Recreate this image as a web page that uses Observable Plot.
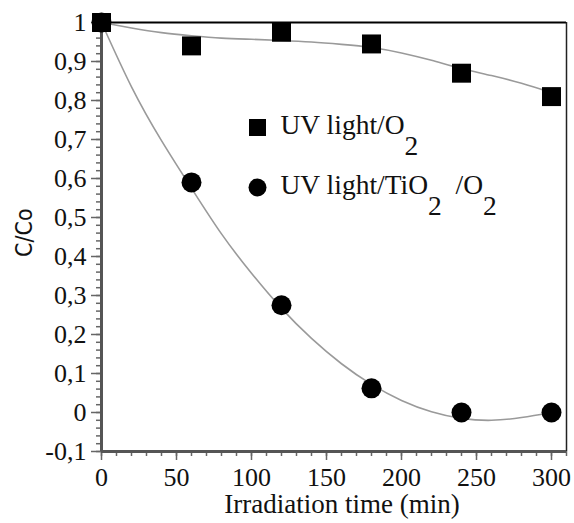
<!DOCTYPE html>
<html>
<head>
<meta charset="utf-8">
<script src="https://cdn.jsdelivr.net/npm/d3@7"></script>
<script src="https://cdn.jsdelivr.net/npm/@observablehq/plot@0.6"></script>
<style>
  body { margin: 0; background: #fff; }
  svg text { white-space: pre; }
  svg text.serif, svg text.serif tspan { font-family: "Liberation Serif", "Times New Roman", Times, "DejaVu Serif", serif !important; }
  svg text.sans { font-family: "DejaVu Sans Condensed", "DejaVu Sans", sans-serif !important; }
</style>
</head>
<body>
<div id="chart"></div>
<script>
// Measured points
const timeMin = [0, 60, 120, 180, 240, 300];
const uvO2 = [1.0, 0.94, 0.975, 0.945, 0.87, 0.81];
const uvTiO2O2 = [1.0, 0.59, 0.275, 0.062, 0.0, 0.0];

// Fitted curves
const fitTime = [0, 20, 40, 60, 80, 100, 120, 140, 160, 180, 200, 220, 240, 260, 280, 300];
const fitUvO2 = [1.0, 0.986, 0.974, 0.966, 0.96, 0.957, 0.954, 0.95, 0.944, 0.936, 0.922, 0.903, 0.882, 0.864, 0.844, 0.82];
const fitUvTiO2O2 = [1.0, 0.835, 0.697, 0.575, 0.458, 0.357, 0.267, 0.19, 0.125, 0.072, 0.031, 0.002, -0.015, -0.02, -0.013, 0.0];

// Axis ticks and labels
const xTicks = [0, 50, 100, 150, 200, 250, 300];
const yTicks = [-0.1, 0, 0.1, 0.2, 0.3, 0.4, 0.5, 0.6, 0.7, 0.8, 0.9, 1];
const yTickLabels = ["-0,1", "0", "0,1", "0,2", "0,3", "0,4", "0,5", "0,6", "0,7", "0,8", "0,9", "1"];
const xMinorTicks = d3.range(0, 32).map(i => i * 10);
const yMinorTicks = d3.range(-5, 51).map(i => i / 50);

const seriesNames = ["UV light/O_2", "UV light/TiO_2  /O_2"];
const xLabel = "Irradiation time (min)";
const yLabel = "C/Co";

const points1 = timeMin.map((t, i) => ({t, v: uvO2[i]}));
const points2 = timeMin.map((t, i) => ({t, v: uvTiO2O2[i]}));
const fit1 = fitTime.map((t, i) => ({t, v: fitUvO2[i]}));
const fit2 = fitTime.map((t, i) => ({t, v: fitUvTiO2O2[i]}));

const chart = Plot.plot({
  width: 574,
  height: 523,
  marginLeft: 101,
  marginRight: 8,
  marginTop: 22,
  marginBottom: 72,
  style: {fontSize: "26px", color: "#000", background: "#fff", overflow: "visible"},
  x: {domain: [0, 310]},
  y: {domain: [-0.1, 1]},
  marks: [
    Plot.axisX(xMinorTicks, {tickSize: 5, text: null, stroke: "#666", strokeWidth: 1.5, label: null}),
    Plot.axisX(xTicks, {tickSize: 9, tickPadding: 7, stroke: "#666", strokeWidth: 1.5, fill: "#111",
      tickFormat: d => String(d), label: null, fontSize: 26}),
    Plot.axisY(yMinorTicks, {tickSize: 5, text: null, stroke: "#666", strokeWidth: 1.5, label: null}),
    Plot.axisY(yTicks, {tickSize: 10, tickPadding: 5, stroke: "#666", strokeWidth: 1.5, fill: "#111",
      tickFormat: d => yTickLabels[yTicks.findIndex(v => Math.abs(v - d) < 1e-9)], label: null, fontSize: 26}),
    Plot.ruleY([1], {stroke: "#000", strokeWidth: 2}),
    Plot.ruleX([310], {stroke: "#222", strokeWidth: 1.5}),
    Plot.ruleX([0], {stroke: "#555", strokeWidth: 3}),
    Plot.ruleY([-0.1], {stroke: "#555", strokeWidth: 3}),
    Plot.line(fit1, {x: "t", y: "v", stroke: "#9a9a9a", strokeWidth: 1.6, curve: "natural"}),
    Plot.line(fit2, {x: "t", y: "v", stroke: "#9a9a9a", strokeWidth: 1.6, curve: "natural"}),
    Plot.dot(points1, {x: "t", y: "v", symbol: "square", r: 10.7, fill: "#000", stroke: null}),
    Plot.dot(points2, {x: "t", y: "v", symbol: "circle", r: 10, fill: "#000", stroke: null}),
    // legend
    Plot.dot([seriesNames[0]], {frameAnchor: "top-left", dx: 156, dy: 105, symbol: "square", r: 9.6, fill: "#000", stroke: null}),
    Plot.dot([seriesNames[1]], {frameAnchor: "top-left", dx: 156, dy: 165, symbol: "circle", r: 9, fill: "#000", stroke: null}),
    Plot.text([seriesNames[0]], {frameAnchor: "top-left", dx: 179, dy: 103, text: d => d, textAnchor: "start", lineAnchor: "middle", fontSize: 27.5, fill: "#111"}),
    Plot.text([seriesNames[1]], {frameAnchor: "top-left", dx: 179, dy: 163, text: d => d, textAnchor: "start", lineAnchor: "middle", fontSize: 27.5, fill: "#111"}),
    // axis titles
    Plot.text([xLabel], {frameAnchor: "bottom", dx: 8, dy: 53, text: d => d, lineAnchor: "middle", fontSize: 27, fill: "#111"}),
    Plot.text([yLabel], {frameAnchor: "left", dx: -77, dy: 20, rotate: -90, text: d => d, lineAnchor: "middle",
      fontSize: 23, fill: "#111"})
  ]
});

// Fonts: serif everywhere, condensed sans for the y title
d3.select(chart).selectAll("text").each(function () {
  this.setAttribute("class", this.textContent === yLabel ? "sans" : "serif");
});

// Turn "_2" into lowered subscripts of the same size
d3.select(chart).selectAll("text").each(function () {
  const t = this.textContent;
  if (!t.includes("_")) return;
  const parts = t.split(/_(\d)/);
  const sel = d3.select(this);
  this.textContent = "";
  let lowered = false;
  parts.forEach((p, i) => {
    if (i % 2 === 1) {
      sel.append("tspan").attr("dy", "0.74em").text(p);
      lowered = true;
    } else if (p) {
      const ts = sel.append("tspan").text(p);
      if (lowered) { ts.attr("dy", "-0.74em"); lowered = false; }
    }
  });
});

document.getElementById("chart").appendChild(chart);
</script>
</body>
</html>
